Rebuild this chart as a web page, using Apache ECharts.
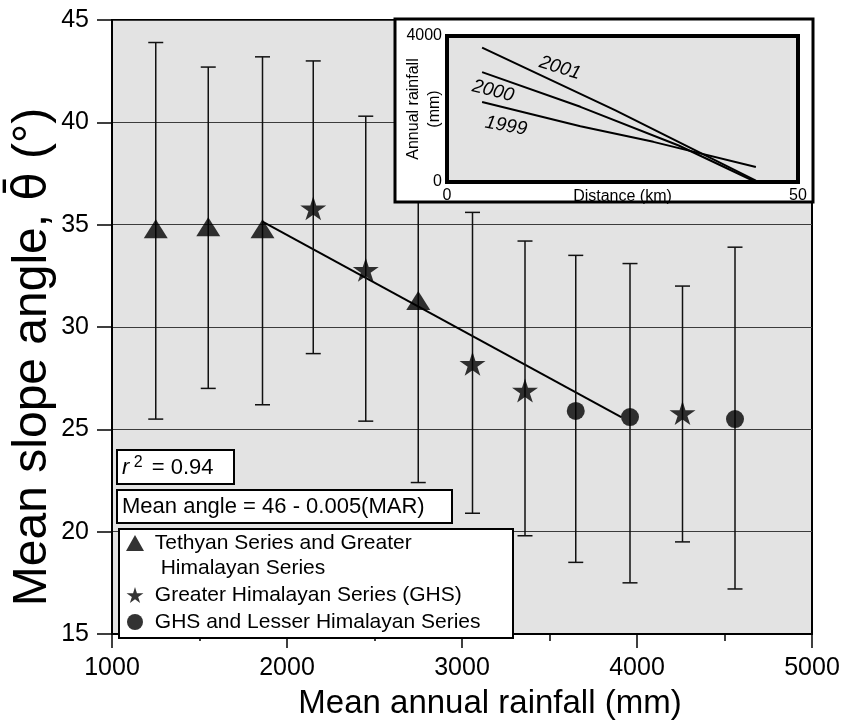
<!DOCTYPE html>
<html><head><meta charset="utf-8">
<script src="https://cdn.jsdelivr.net/npm/echarts@6/dist/echarts.min.js"></script>
<style>html,body{margin:0;padding:0;background:#fff}#c{width:854px;height:725px}</style>
</head><body><div id="c"></div>
<script>
// ---- main plot data (mean annual rainfall mm, mean slope angle deg, error bar low/high) ----
const triangleX = [1250, 1550, 1860, 2750];
const triangleY = [34.8, 34.9, 34.8, 31.3];
const triangleLow = [25.5, 27.0, 26.2, 22.4];
const triangleHigh = [43.9, 42.7, 43.2, 40.0];
const starX = [2150, 2450, 3060, 3360, 4260];
const starY = [35.8, 32.8, 28.2, 26.9, 25.8];
const starLow = [28.7, 25.4, 20.9, 19.8, 19.5];
const starHigh = [43.0, 40.3, 35.6, 34.2, 32.0];
const circleX = [3650, 3960, 4560];
const circleY = [25.9, 25.6, 25.5];
const circleLow = [18.5, 17.5, 17.2];
const circleHigh = [33.5, 33.1, 33.9];
const fitX = [1860, 3910];
const fitY = [35.15, 25.6];
const seriesNames = ['Tethyan Series and Greater Himalayan Series', 'Greater Himalayan Series (GHS)', 'GHS and Lesser Himalayan Series'];
const xTickRange = [1000, 5000, 1000];
const yTickRange = [15, 45, 5];
// ---- inset data (distance km, annual rainfall mm) ----
const insetYears = ['2001', '2000', '1999'];
const inset2001X = [5, 24, 44];
const inset2001Y = [3680, 1960, 40];
const inset2000X = [5, 19, 33, 44];
const inset2000Y = [3010, 2060, 1000, 0];
const inset1999X = [5, 19, 29.4, 44];
const inset1999Y = [2190, 1530, 1100, 410];
const insetXRange = [0, 50, 50];
const insetYRange = [0, 4000, 4000];

const zip = (a, b) => a.map((v, i) => [v, b[i]]);
const zip3 = (a, b, c) => a.map((v, i) => [v, b[i], c[i]]);
const starPath = 'path://M50,0 L61,35 L98,35 L68,57 L79,91 L50,70 L21,91 L32,57 L2,35 L39,35 Z';
const errData = [].concat(zip3(triangleX, triangleLow, triangleHigh), zip3(starX, starLow, starHigh), zip3(circleX, circleLow, circleHigh));
const FONT = 'Liberation Sans, Arial, Helvetica, sans-serif';
const plain = v => String(v);

function errRender(params, api) {
  const x = api.value(0), lo = api.value(1), hi = api.value(2);
  const a = api.coord([x, hi]), b = api.coord([x, lo]);
  const w = 7.5;
  const st = { stroke: '#111', lineWidth: 1.5 };
  return { type: 'group', children: [
    { type: 'line', shape: { x1: a[0], y1: a[1], x2: b[0], y2: b[1] }, style: st },
    { type: 'line', shape: { x1: a[0] - w, y1: a[1], x2: a[0] + w, y2: a[1] }, style: st },
    { type: 'line', shape: { x1: b[0] - w, y1: b[1], x2: b[0] + w, y2: b[1] }, style: st }
  ]};
}

const chart = echarts.init(document.getElementById('c'), null, { renderer: 'canvas' });
const option = {
  backgroundColor: '#fff',
  animation: false,
  textStyle: { fontFamily: FONT, color: '#000' },
  grid: [
    { left: 112, top: 20, width: 700, height: 618, show: true, backgroundColor: '#e3e3e3', borderColor: '#000', borderWidth: 2 },
    { left: 447, top: 36, width: 351, height: 146, show: true, backgroundColor: '#e3e3e3', borderColor: '#000', borderWidth: 4, zlevel: 1, z: 1 }
  ],
  xAxis: [
    { type: 'value', gridIndex: 0, min: xTickRange[0], max: xTickRange[1], interval: xTickRange[2],
      name: 'Mean annual rainfall (mm)', nameLocation: 'middle', nameGap: 53, nameMoveOverlap: false,
      nameTextStyle: { fontSize: 33, color: '#000', fontFamily: FONT, padding: [0, 0, 0, 56] },
      axisLine: { show: true, lineStyle: { color: '#000', width: 2 } },
      axisTick: { show: true, inside: false, length: 14, lineStyle: { color: '#000', width: 1.5 } },
      minorTick: { show: true, splitNumber: 2, length: 7, lineStyle: { color: '#000', width: 1.5 } },
      axisLabel: { fontSize: 25, color: '#000', margin: 22, fontFamily: FONT, formatter: plain },
      splitLine: { show: false } },
    { type: 'value', gridIndex: 1, min: insetXRange[0], max: insetXRange[1], interval: insetXRange[2],
      zlevel: 1, z: 3,
      name: 'Distance (km)', nameLocation: 'middle', nameGap: 7, nameMoveOverlap: false,
      nameTextStyle: { fontSize: 16, color: '#000', fontFamily: FONT },
      axisLine: { show: false }, axisTick: { show: false },
      axisLabel: { fontSize: 16, color: '#000', margin: 6, fontFamily: FONT, formatter: plain },
      splitLine: { show: false } }
  ],
  yAxis: [
    { type: 'value', gridIndex: 0, min: yTickRange[0], max: yTickRange[1], interval: yTickRange[2],
      name: 'Mean slope angle, {t|θ\u0304} (°)', nameLocation: 'middle', nameRotate: 90, nameGap: 55, nameMoveOverlap: false,
      nameTextStyle: { fontSize: 48, color: '#000', fontFamily: FONT, padding: [0, 60, 0, 0],
        rich: { t: { fontSize: 46, fontFamily: 'DejaVu Sans', color: '#000' } } },
      axisLine: { show: true, lineStyle: { color: '#000', width: 2 } },
      axisTick: { show: true, inside: false, length: 15, lineStyle: { color: '#000', width: 1.5 } },
      axisLabel: { fontSize: 25, color: '#000', margin: 23, fontFamily: FONT, formatter: plain },
      splitLine: { show: true, lineStyle: { color: '#3c3c3c', width: 1 } } },
    { type: 'value', gridIndex: 1, min: insetYRange[0], max: insetYRange[1], interval: insetYRange[2],
      zlevel: 1, z: 3,
      name: 'Annual rainfall\n(mm)', nameLocation: 'middle', nameRotate: 90, nameGap: 2, nameMoveOverlap: false,
      nameTextStyle: { fontSize: 16, color: '#000', fontFamily: FONT, lineHeight: 21 },
      axisLine: { show: false }, axisTick: { show: false },
      axisLabel: { fontSize: 16, color: '#000', margin: 5, fontFamily: FONT, formatter: plain },
      splitLine: { show: false } }
  ],
  legend: {
    orient: 'vertical', left: 119, top: 529,
    backgroundColor: '#fff', borderColor: '#000', borderWidth: 2,
    padding: [-23.5, 19, 3.5, 7], itemGap: 2, itemWidth: 18, itemHeight: 16,
    textStyle: { fontSize: 21, color: '#000', fontFamily: FONT, lineHeight: 25, width: 345 },
    formatter: function (n) { return n === seriesNames[0] ? ' \n Tethyan Series and Greater\n  Himalayan Series' : ' ' + n; },
    data: [
      { name: seriesNames[0], icon: 'triangle' },
      { name: seriesNames[1], icon: starPath },
      { name: seriesNames[2], icon: 'circle' }
    ],
    selectedMode: false
  },
  series: [
    { type: 'line', name: 'fit', data: zip(fitX, fitY), symbol: 'none', silent: true,
      lineStyle: { color: '#000', width: 2 }, z: 2 },
    { type: 'custom', name: 'err', data: errData, renderItem: errRender, silent: true, z: 3,
      encode: { x: 0, y: [1, 2] } },
    { type: 'scatter', name: seriesNames[0], data: zip(triangleX, triangleY), symbol: 'triangle',
      symbolSize: [24, 19], itemStyle: { color: '#000' }, z: 5 },
    { type: 'scatter', name: seriesNames[1], data: zip(starX, starY), symbol: starPath,
      symbolSize: [26, 24], itemStyle: { color: '#000' }, z: 5 },
    { type: 'scatter', name: seriesNames[2], data: zip(circleX, circleY), symbol: 'circle',
      symbolSize: 18, itemStyle: { color: '#000' }, z: 5 },
    { type: 'line', name: insetYears[0], xAxisIndex: 1, yAxisIndex: 1, data: zip(inset2001X, inset2001Y),
      symbol: 'none', lineStyle: { color: '#000', width: 2 }, zlevel: 1, z: 4, silent: true },
    { type: 'line', name: insetYears[1], xAxisIndex: 1, yAxisIndex: 1, data: zip(inset2000X, inset2000Y),
      symbol: 'none', lineStyle: { color: '#000', width: 2 }, zlevel: 1, z: 4, silent: true },
    { type: 'line', name: insetYears[2], xAxisIndex: 1, yAxisIndex: 1, data: zip(inset1999X, inset1999Y),
      symbol: 'none', lineStyle: { color: '#000', width: 2 }, zlevel: 1, z: 4, silent: true }
  ],
  graphic: [
    // inset frame
    { type: 'rect', zlevel: 1, z: 0, shape: { x: 395, y: 19, width: 418, height: 183 },
      style: { fill: '#fff', stroke: '#000', lineWidth: 3 }, silent: true },
    { type: 'text', zlevel: 1, z: 10, x: 560, y: 68, rotation: -0.3,
      style: { text: insetYears[0], font: 'italic 19px ' + FONT, fill: '#000', align: 'center', verticalAlign: 'middle' } },
    { type: 'text', zlevel: 1, z: 10, x: 493, y: 91, rotation: -0.25,
      style: { text: insetYears[1], font: 'italic 19px ' + FONT, fill: '#000', align: 'center', verticalAlign: 'middle' } },
    { type: 'text', zlevel: 1, z: 10, x: 506, y: 126, rotation: -0.18,
      style: { text: insetYears[2], font: 'italic 19px ' + FONT, fill: '#000', align: 'center', verticalAlign: 'middle' } },
    // annotation boxes
    { type: 'rect', z: 100, shape: { x: 117, y: 450, width: 117, height: 34 },
      style: { fill: '#fff', stroke: '#000', lineWidth: 2 }, silent: true },
    { type: 'text', z: 101, x: 122, y: 468,
      style: { text: '{i|r}{s| 2} = 0.94', font: '22px ' + FONT, fill: '#000', verticalAlign: 'middle',
        rich: { i: { fontStyle: 'italic', fontSize: 22, fontFamily: FONT }, s: { fontSize: 16, fontFamily: FONT, verticalAlign: 'top', padding: [0, 3, 10, 0] } } } },
    { type: 'rect', z: 100, shape: { x: 117, y: 490, width: 335, height: 33 },
      style: { fill: '#fff', stroke: '#000', lineWidth: 2 }, silent: true },
    { type: 'text', z: 101, x: 122, y: 507,
      style: { text: 'Mean angle = 46 - 0.005(MAR)', font: '22px ' + FONT, fill: '#000', verticalAlign: 'middle' } }
  ]
};
chart.setOption(option);
</script>
</body></html>
